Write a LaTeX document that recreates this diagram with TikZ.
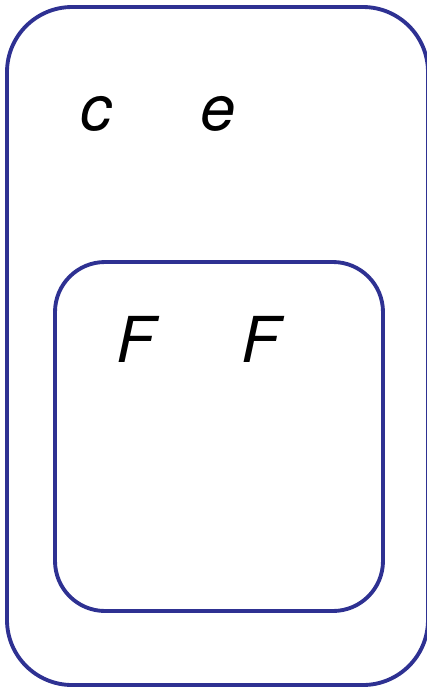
\documentclass[tikz,border=0pt]{standalone}
\usepackage{fontspec}
\setsansfont{TeX Gyre Heros}
\usepackage{tikz}
\definecolor{regionline}{HTML}{2E3192}
\tikzset{
  region/.style={draw=regionline, line width=1.1pt, fill=none},
  letter/.style={font=\fontsize{18}{20}\selectfont\sffamily\itshape, inner sep=0pt, anchor=base},
}

\begin{document}
\begin{tikzpicture}[x=0.01cm, y=-0.01cm]
    \useasboundingbox (0,0) rectangle (427,687);
    \draw[region, rounded corners=0.65cm] (7,7) rectangle (428,685);
    \draw[region, rounded corners=0.5cm] (55,262) rectangle (383,611);
    \node[letter] (lblc) at (96,130) {c};
    \node[letter] (lble) at (218,130) {e};
    \node[letter] (lblfa) at (136,362) {F};
    \node[letter] (lblfb) at (261,362) {F};
  \end{tikzpicture}
\end{document}
